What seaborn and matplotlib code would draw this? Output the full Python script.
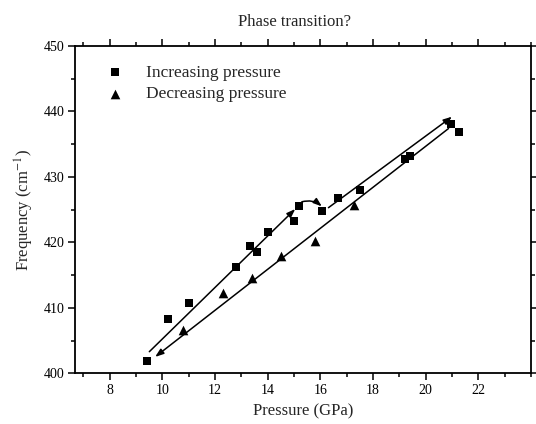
import pandas as pd
import matplotlib
matplotlib.use("Agg")
import matplotlib.pyplot as plt
import seaborn as sns
from matplotlib.ticker import MultipleLocator, FixedLocator

# data
inc_pressure = [9.44, 10.22, 11.01, 12.79, 13.32, 13.59, 14.00, 14.99, 15.18,
                16.08, 16.69, 17.50, 19.20, 19.39, 20.97, 21.28]
inc_freq = [401.9, 408.3, 410.8, 416.3, 419.5, 418.5, 421.6, 423.3, 425.6,
            424.8, 426.8, 428.0, 432.8, 433.2, 438.1, 436.8]
dec_pressure = [10.77, 12.31, 13.42, 14.49, 15.81, 17.28]
dec_freq = [406.6, 412.2, 414.6, 417.9, 420.2, 425.7]
x_ticks = [8, 10, 12, 14, 16, 18, 20, 22]

# guide arrows (start, end) in data units
arrow_inc_1 = [(9.51, 403.3), (15.05, 425.1)]
arrow_jump = [(15.30, 426.2), (16.06, 425.5)]
arrow_inc_2 = [(16.31, 425.3), (21.0, 439.2)]
arrow_dec = [(20.87, 437.4), (9.73, 402.5)]

inc = pd.DataFrame({"Pressure": inc_pressure, "Frequency": inc_freq})
dec = pd.DataFrame({"Pressure": dec_pressure, "Frequency": dec_freq})

sns.set_style("ticks")
plt.rcParams["font.family"] = ["Liberation Serif", "DejaVu Serif"]
plt.rcParams["mathtext.fontset"] = "stix"

fig = plt.figure(figsize=(5.36, 4.24), dpi=100)
ax = fig.add_axes([0.1405, 0.1196, 0.8502, 0.7719])

sns.scatterplot(data=inc, x="Pressure", y="Frequency", marker="s", color="black",
                s=34, linewidth=0, label="Increasing pressure", ax=ax)
sns.scatterplot(data=dec, x="Pressure", y="Frequency", marker="^", color="black",
                s=48, linewidth=0, label="Decreasing pressure", ax=ax)

arrow_kw = dict(arrowstyle="-|>,head_length=0.5,head_width=0.18", color="black",
                lw=1.1, shrinkA=0, shrinkB=0, mutation_scale=10)
for a in [arrow_inc_1, arrow_inc_2, arrow_dec]:
    ax.annotate("", xy=a[1], xytext=a[0], arrowprops=arrow_kw)
ax.annotate("", xy=arrow_jump[1], xytext=arrow_jump[0],
            arrowprops=dict(arrow_kw, connectionstyle="arc3,rad=-0.25"))

ax.set_xlim(6.7, 24)
ax.set_ylim(400, 450)
ax.xaxis.set_major_locator(FixedLocator(x_ticks))
ax.xaxis.set_minor_locator(MultipleLocator(1))
ax.yaxis.set_major_locator(MultipleLocator(10))
ax.yaxis.set_minor_locator(MultipleLocator(5))
ax.tick_params(which="both", direction="out", top=True, right=True,
               labeltop=False, labelright=False, colors="black", width=1.1)
ax.tick_params(which="major", length=5, labelsize=10, pad=3)
ax.tick_params(which="minor", length=3)
for s in ax.spines.values():
    s.set_linewidth(1.3)
    s.set_color("black")

ax.set_xlabel("Pressure (GPa)", fontsize=12, labelpad=4)
ax.set_ylabel("Frequency (cm$^{-1}$)", fontsize=12, labelpad=5)
fig.text(0.55, 0.948, "Phase transition?", ha="center", va="center", fontsize=12)

leg = ax.legend(loc="upper left", bbox_to_anchor=(0.052, 0.965), frameon=False,
                fontsize=12.5, handlelength=1.0, handletextpad=1.3,
                labelspacing=0.32, borderaxespad=0)

fig.savefig("out.png", dpi=100)
